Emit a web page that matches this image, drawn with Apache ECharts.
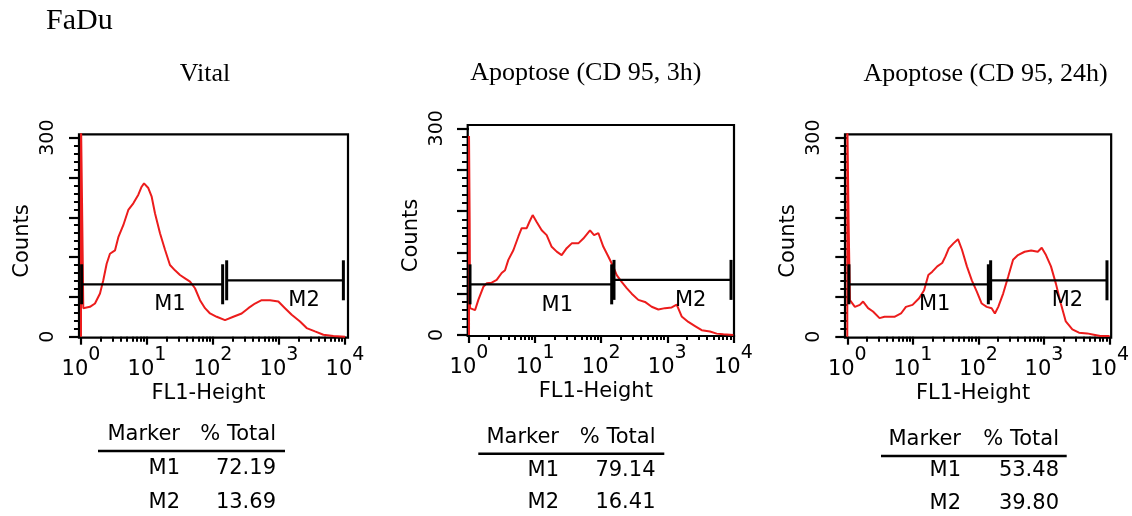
<!DOCTYPE html>
<html>
<head>
<meta charset="utf-8">
<script src="https://cdn.jsdelivr.net/npm/echarts@6/dist/echarts.min.js"></script>
<style>
html,body{margin:0;padding:0;background:#fff;}
#c{width:1132px;height:516px;}
</style>
</head>
<body>
<div id="c"></div>
<script>
// ---------------- DATA ----------------
const chartTitle = 'FaDu';
const panelTitles = ['Vital', 'Apoptose (CD 95, 3h)', 'Apoptose (CD 95, 24h)'];
const xAxisName = 'FL1-Height';
const yAxisName = 'Counts';
const xDecadeTicks = [0, 1, 2, 3, 4];      // 10^0 .. 10^4
const yLabelTicks = [0, 300];
const yMajorTicks = [0, 60, 120, 180, 240, 300];

const vitalFL1 = [0, 0, 0.02, 0.035, 0.136, 0.212, 0.288, 0.338, 0.389, 0.439, 0.515, 0.566, 0.641, 0.717, 0.793, 0.869, 0.919, 0.955, 1.020, 1.071, 1.121, 1.197, 1.273, 1.348, 1.424, 1.5, 1.576, 1.652, 1.727, 1.803, 1.879, 1.955, 2.056, 2.182, 2.308, 2.434, 2.535, 2.636, 2.737, 2.864, 2.990, 3.091, 3.192, 3.318, 3.419, 3.545, 3.672, 3.823, 4.0];
const vitalCounts = [0, 330, 171, 43, 45, 50, 65, 85, 110, 125, 130, 150, 168, 191, 201, 214, 226, 231, 224, 211, 186, 156, 131, 108, 100, 93, 88, 83, 73, 55, 43, 35, 30, 25, 30, 35, 43, 50, 55, 55, 53, 43, 33, 23, 13, 8, 3, 1, 0];

const cd95h3FL1 = [0, 0, 0.01, 0.015, 0.091, 0.141, 0.217, 0.267, 0.343, 0.419, 0.494, 0.545, 0.595, 0.671, 0.747, 0.797, 0.873, 0.913, 0.963, 1.024, 1.100, 1.175, 1.251, 1.327, 1.402, 1.478, 1.554, 1.654, 1.730, 1.831, 1.892, 1.957, 2.033, 2.108, 2.184, 2.235, 2.310, 2.386, 2.462, 2.562, 2.663, 2.764, 2.865, 2.966, 3.067, 3.143, 3.218, 3.319, 3.420, 3.521, 3.647, 3.748, 3.849, 4.0];
const cd95h3Counts = [0, 289, 162, 39, 36, 51, 70, 75, 76, 80, 90, 94, 109, 123, 143, 155, 155, 164, 174, 164, 152, 145, 128, 121, 116, 126, 133, 133, 140, 152, 145, 148, 128, 114, 99, 87, 77, 68, 60, 51, 48, 41, 37, 39, 40, 44, 27, 19, 13, 7, 5, 2, 1, 0];

const cd95h24FL1 = [0, 0, 0.02, 0.040, 0.116, 0.191, 0.241, 0.317, 0.392, 0.492, 0.568, 0.643, 0.719, 0.819, 0.894, 0.995, 1.095, 1.171, 1.236, 1.296, 1.372, 1.447, 1.497, 1.548, 1.623, 1.688, 1.749, 1.824, 1.899, 1.975, 2.050, 2.126, 2.201, 2.251, 2.302, 2.377, 2.452, 2.528, 2.603, 2.704, 2.804, 2.905, 2.965, 3.030, 3.106, 3.181, 3.256, 3.332, 3.432, 3.533, 3.658, 3.759, 3.859, 4.0];
const cd95h24Counts = [0, 330, 173, 55, 45, 48, 53, 43, 38, 28, 30, 30, 30, 35, 45, 48, 58, 70, 93, 98, 106, 111, 121, 133, 141, 147, 131, 106, 85, 68, 50, 45, 43, 35, 45, 65, 90, 116, 123, 128, 130, 128, 134, 123, 106, 80, 50, 23, 11, 6, 5, 3, 1, 1];

// Marker gates: [start decade, end decade], bar level (counts)
const markerNames = ['M1', 'M2'];
const vitalGates = [[0.01, 2.146], [2.207, 3.975]];
const vitalGateLevel = [79, 85];
const cd95h3Gates = [[0.015, 2.159], [2.194, 3.965]];
const cd95h3GateLevel = [73.5, 80];
const cd95h24Gates = [[0.025, 2.151], [2.186, 3.96]];
const cd95h24GateLevel = [79, 85];
// Marker label anchors [decade, counts]
const vitalGateLabelPos = [[1.348, 48], [3.379, 54]];
const cd95h3GateLabelPos = [[1.336, 42.5], [3.355, 50]];
const cd95h24GateLabelPos = [[1.332, 48], [3.356, 55]];

// Statistics tables
const tableHeader = ['Marker', '% Total'];
const vitalPctTotal = ['72.19', '13.69'];
const cd95h3PctTotal = ['79.14', '16.41'];
const cd95h24PctTotal = ['53.48', '39.80'];

// ---------------- LAYOUT ----------------
const SANS = '"DejaVu Sans", "Liberation Sans", Arial, sans-serif';
const SERIF = '"Liberation Serif", "Times New Roman", serif';
const RED = '#ec1c1c';

const panels = [
  { fl1: vitalFL1, counts: vitalCounts, gates: vitalGates, level: vitalGateLevel, lab: vitalGateLabelPos, pct: vitalPctTotal,
    grid: { left: 79, top: 134.3, width: 269, height: 203.4 }, x: [-0.03, 4.045], y: [-1.5, 305],
    title: { x: 205, y: 73.9 },
    table: { c1: 180, c2: 276, head: 434.2, rule: 451, x0: 98, x1: 285, rows: [469, 502.5] } },
  { fl1: cd95h3FL1, counts: cd95h3Counts, gates: cd95h3Gates, level: cd95h3GateLevel, lab: cd95h3GateLabelPos, pct: cd95h3PctTotal,
    grid: { left: 467.7, top: 125, width: 266.3, height: 211 }, x: [-0.02, 4.01], y: [-1.45, 304.8],
    title: { x: 585.8, y: 72.9 },
    table: { c1: 559, c2: 655.5, head: 438, rule: 453.8, x0: 478.3, x1: 664.3, rows: [470.5, 502.5] } },
  { fl1: cd95h24FL1, counts: cd95h24Counts, gates: cd95h24Gates, level: cd95h24GateLevel, lab: cd95h24GateLabelPos, pct: cd95h24PctTotal,
    grid: { left: 845, top: 134.3, width: 269.3, height: 203.4 }, x: [-0.035, 4.024], y: [-1.5, 305],
    title: { x: 985.5, y: 74.2 },
    table: { c1: 961, c2: 1059, head: 439.2, rule: 456, x0: 881, x1: 1066.7, rows: [470.5, 503.3] } }
];

// log minor tick positions (2..9 within each decade)
const xMinorTicks = [];
for (let d = 0; d < 4; d++) for (let k = 2; k <= 9; k++) xMinorTicks.push(d + Math.log10(k));
const yMinorTicks = [];
for (let v = 12; v < 300; v += 12) if (v % 60 !== 0) yMinorTicks.push(v);

const grids = [], xAxes = [], yAxes = [], series = [], graphics = [];

graphics.push({ type: 'text', x: 46, y: 21.6, style: { text: chartTitle, font: '30px ' + SERIF, fill: '#000', textAlign: 'left', textVerticalAlign: 'middle' } });

panels.forEach((p, i) => {
  grids.push(Object.assign({ show: true, borderColor: '#000', borderWidth: 2.2, backgroundColor: 'transparent', containLabel: false }, p.grid));
  const gx = i * 2, gy = i * 2;
  // major x axis
  xAxes.push({
    type: 'value', gridIndex: i, min: p.x[0], max: p.x[1], position: 'bottom',
    axisLine: { show: false }, splitLine: { show: false },
    axisTick: { show: true, customValues: xDecadeTicks, length: 8, lineStyle: { color: '#000', width: 2.2 } },
    axisLabel: {
      show: true, customValues: xDecadeTicks, margin: 8, color: '#000',
      formatter: v => '{b|10}{s|' + Math.round(v) + '}',
      rich: {
        b: { fontSize: 21, fontFamily: SANS, color: '#000', padding: [13, 0, 0, 0], verticalAlign: 'bottom' },
        s: { fontSize: 19, fontFamily: SANS, color: '#000', verticalAlign: 'top' }
      }
    },
    name: xAxisName, nameLocation: 'middle', nameGap: 56,
    nameTextStyle: { fontSize: 21, fontFamily: SANS, color: '#000', align: 'center', verticalAlign: 'middle', padding: [0, 10, 0, 0] }
  });
  // minor x axis
  xAxes.push({
    type: 'value', gridIndex: i, min: p.x[0], max: p.x[1], position: 'bottom',
    axisLine: { show: false }, splitLine: { show: false }, axisLabel: { show: false },
    axisTick: { show: true, customValues: xMinorTicks, length: 5, lineStyle: { color: '#000', width: 2 } }
  });
  // major y axis
  yAxes.push({
    type: 'value', gridIndex: i, min: p.y[0], max: p.y[1], position: 'left',
    axisLine: { show: false }, splitLine: { show: false },
    axisTick: { show: true, customValues: yMajorTicks, length: 12, lineStyle: { color: '#000', width: 2.2 } },
    axisLabel: { show: true, customValues: yLabelTicks, rotate: 90, margin: 31, align: 'center', verticalAlign: 'middle',
      fontSize: 19, fontFamily: SANS, color: '#000' },
    name: yAxisName, nameLocation: 'middle', nameGap: 56, nameRotate: 90,
    nameTextStyle: { fontSize: 21, fontFamily: SANS, color: '#000', align: 'center', verticalAlign: 'middle', padding: [0, 10, 0, 0] }
  });
  // minor y axis
  yAxes.push({
    type: 'value', gridIndex: i, min: p.y[0], max: p.y[1], position: 'left',
    axisLine: { show: false }, splitLine: { show: false }, axisLabel: { show: false },
    axisTick: { show: true, customValues: yMinorTicks, length: 7, lineStyle: { color: '#000', width: 2 } }
  });

  // histogram
  series.push({
    type: 'line', xAxisIndex: gx, yAxisIndex: gy, data: p.fl1.map((d, j) => [d, p.counts[j]]),
    showSymbol: false, symbol: 'none', clip: true, silent: true, z: 3,
    lineStyle: { color: RED, width: 2 }, emphasis: { disabled: true }
  });
  // marker gates
  p.gates.forEach((g, k) => {
    series.push({
      type: 'line', xAxisIndex: gx, yAxisIndex: gy, data: [[g[0], p.level[k]], [g[1], p.level[k]]],
      symbol: 'rect', symbolSize: [3, 40], showSymbol: true, silent: true, z: 4,
      itemStyle: { color: '#000' }, lineStyle: { color: '#000', width: 2.2 }, emphasis: { disabled: true }
    });
  });
  // marker labels
  series.push({
    type: 'scatter', xAxisIndex: gx, yAxisIndex: gy, silent: true, z: 5,
    symbolSize: 0.1, itemStyle: { color: '#fff', opacity: 1 },
    data: p.lab.map((pos, k) => ({ value: pos, name: markerNames[k] })),
    label: { show: true, position: 'inside', formatter: q => q.name, color: '#000', textBorderWidth: 0,
      fontSize: 21, fontFamily: SANS, opacity: 1 },
    emphasis: { disabled: true }
  });

  // title
  graphics.push({ type: 'text', x: p.title.x, y: p.title.y,
    style: { text: panelTitles[i], font: '26px ' + SERIF, fill: '#000', textAlign: 'center', textVerticalAlign: 'middle' } });

  // table
  const t = p.table;
  const f = '21px ' + SANS;
  graphics.push({ type: 'text', x: t.c1, y: t.head, style: { text: tableHeader[0], font: f, fill: '#000', textAlign: 'right', textVerticalAlign: 'middle' } });
  graphics.push({ type: 'text', x: t.c2, y: t.head, style: { text: tableHeader[1], font: f, fill: '#000', textAlign: 'right', textVerticalAlign: 'middle' } });
  graphics.push({ type: 'line', shape: { x1: t.x0, y1: t.rule, x2: t.x1, y2: t.rule }, style: { stroke: '#000', lineWidth: 2.5 } });
  markerNames.forEach((m, k) => {
    graphics.push({ type: 'text', x: t.c1, y: t.rows[k], style: { text: m, font: f, fill: '#000', textAlign: 'right', textVerticalAlign: 'middle' } });
    graphics.push({ type: 'text', x: t.c2, y: t.rows[k], style: { text: p.pct[k], font: f, fill: '#000', textAlign: 'right', textVerticalAlign: 'middle' } });
  });
});

const chart = echarts.init(document.getElementById('c'), null, { renderer: 'canvas' });
chart.setOption({
  animation: false,
  backgroundColor: '#fff',
  grid: grids,
  xAxis: xAxes,
  yAxis: yAxes,
  series: series,
  graphic: graphics
});
</script>
</body>
</html>
